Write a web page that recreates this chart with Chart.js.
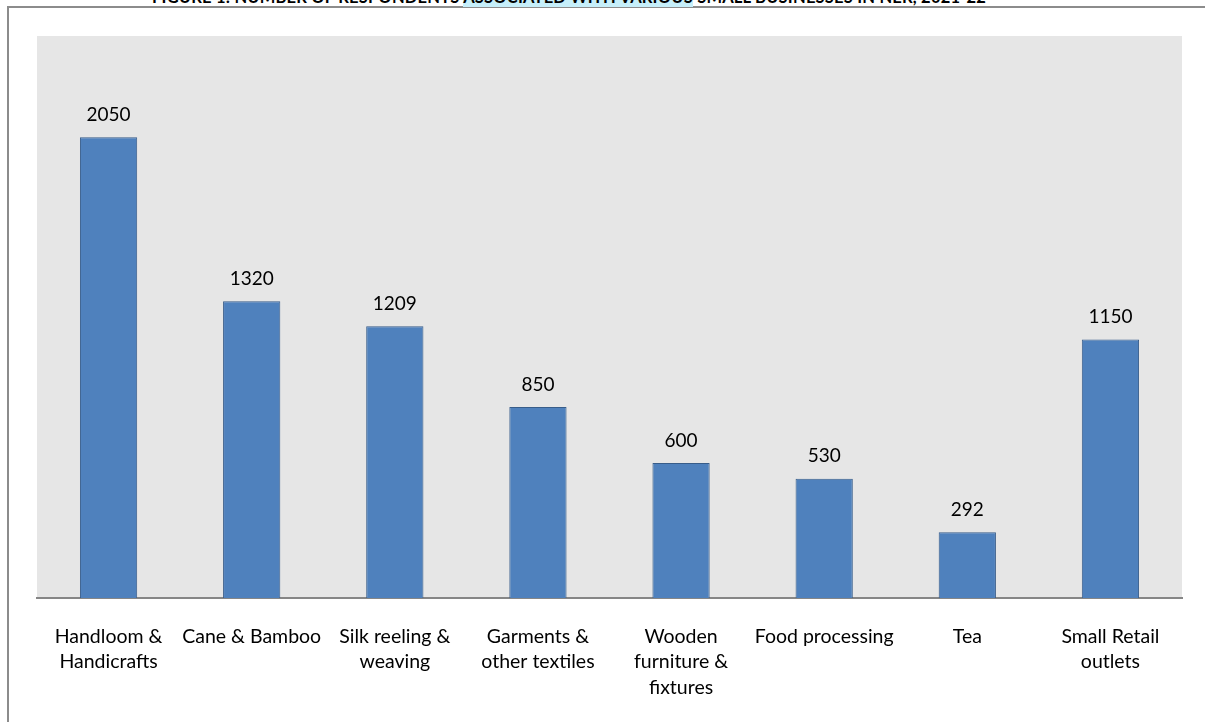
<!DOCTYPE html>
<html>
<head>
<meta charset="utf-8">
<script src="https://cdn.jsdelivr.net/npm/chart.js@4/dist/chart.umd.min.js"></script>
<style>
  html, body { margin: 0; padding: 0; background: #fff; overflow: hidden; }
  #wrap { position: relative; width: 1205px; height: 722px; }
  #frame { position: absolute; left: 7px; top: 6px; right: 0; bottom: 0;
           border-left: 2px solid #8c8c8c; border-top: 2px solid #8c8c8c; }
  #title { position: absolute; top: -13px; left: 152px; white-space: nowrap;
           font: bold 16.5px Lato, "Open Sans", sans-serif; color: #000; letter-spacing: 0.2px; }
  #title span { background: #c6effa; }
  canvas { position: absolute; left: 0; top: 0; }
</style>
</head>
<body>
<div id="wrap">
  <div id="frame"></div>
  <div id="title">FIGURE 1: NUMBER OF RESPONDENTS <span>ASSOCIATED WITH VARIOUS</span> SMALL BUSINESSES IN NER, 2021-22</div>
  <canvas id="chartNegocios" width="1205" height="722"></canvas>
</div>
<script>
const categorias = [
  ['Handloom &', 'Handicrafts'],
  'Cane & Bamboo',
  ['Silk reeling &', 'weaving'],
  ['Garments &', 'other textiles'],
  ['Wooden', 'furniture &', 'fixtures'],
  'Food processing',
  'Tea',
  ['Small Retail', 'outlets']
];
const respondentes = [2050, 1320, 1209, 850, 600, 530, 292, 1150];

// fondo gris del area de la grafica
const fondoArea = {
  id: 'fondoArea',
  beforeDraw(chart) {
    const { ctx, chartArea: a } = chart;
    ctx.save();
    ctx.fillStyle = '#e6e6e6';
    ctx.fillRect(a.left, a.top, a.right - a.left, a.bottom - a.top);
    ctx.restore();
  }
};

// numeros encima de cada barra
const etiquetas = {
  id: 'etiquetas',
  afterDatasetsDraw(chart) {
    const { ctx } = chart;
    const meta = chart.getDatasetMeta(0);
    ctx.save();
    ctx.font = '19px Lato, "Open Sans", sans-serif';
    ctx.fillStyle = '#000';
    ctx.textAlign = 'center';
    ctx.textBaseline = 'bottom';
    meta.data.forEach((bar, i) => {
      ctx.fillText(respondentes[i], bar.x, bar.y - 13);
    });
    ctx.restore();
  }
};

const ctx = document.getElementById('chartNegocios');

new Chart(ctx, {
  type: 'bar',
  data: {
    labels: categorias,
    datasets: [{
      data: respondentes,
      backgroundColor: '#4f81bd',
      borderColor: '#385d8a',
      borderWidth: 1,
      borderSkipped: 'bottom',
      barPercentage: 0.4,
      categoryPercentage: 1
    }]
  },
  options: {
    responsive: false,
    animation: false,
    layout: { padding: { left: 37, right: 23, top: 36, bottom: 0 } },
    plugins: {
      legend: { display: false },
      tooltip: { enabled: false }
    },
    scales: {
      x: {
        grid: { display: false },
        border: { display: true, color: '#868686', width: 2 },
        ticks: {
          color: '#000',
          padding: 18,
          maxRotation: 0,
          autoSkip: false,
          font: { family: 'Lato, "Open Sans", sans-serif', size: 19.5, lineHeight: 1.3 }
        },
        afterFit(scale) { scale.height = 124; }
      },
      y: {
        display: false,
        min: 0,
        max: 2500
      }
    }
  },
  plugins: [fondoArea, etiquetas]
});
</script>
</body>
</html>
